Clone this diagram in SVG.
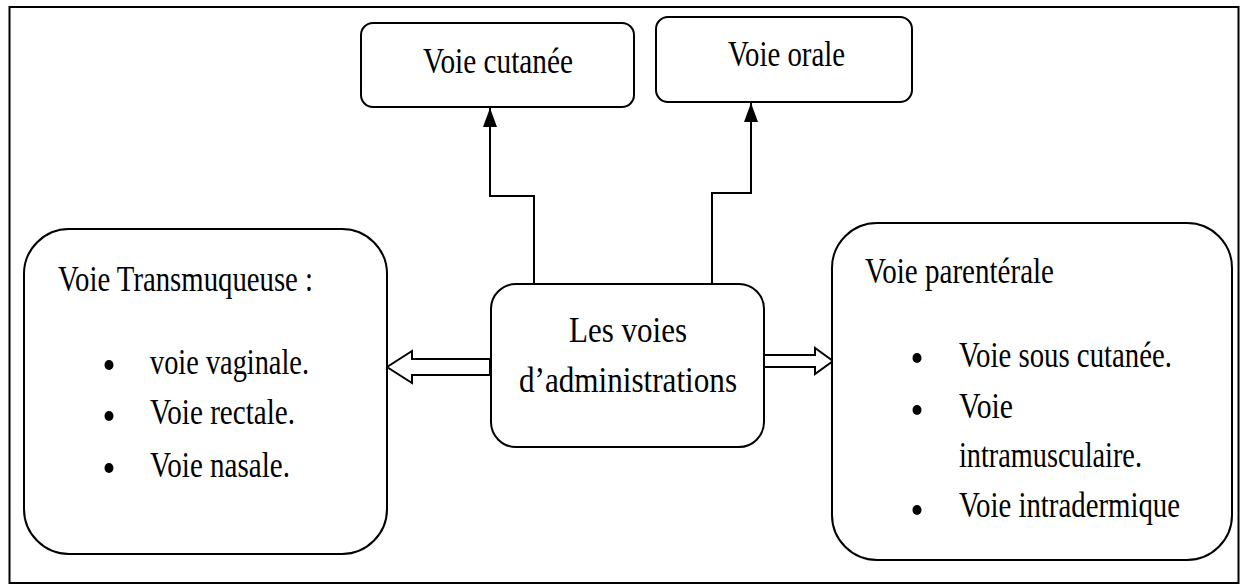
<svg xmlns="http://www.w3.org/2000/svg" width="1240" height="586" viewBox="0 0 1240 586">
<style>
.box{fill:#fff;stroke:#000;stroke-width:2}
.t{font-family:"Liberation Serif","Times New Roman",serif;font-size:36px;fill:#000}
.c{text-anchor:middle}
.ln{fill:none;stroke:#000;stroke-width:2}
.hollow{fill:#fff;stroke:#000;stroke-width:2;stroke-linejoin:miter}
</style>
<defs>
<marker id="ah" markerWidth="20" markerHeight="14" refX="19" refY="7" orient="auto" markerUnits="userSpaceOnUse">
<path d="M0,0 L19,7 L0,14 Z" fill="#000"/>
</marker>
</defs>
<rect x="9.5" y="7" width="1229" height="576" fill="#fff" stroke="#000" stroke-width="2"/>
<g id="connectors">
<path class="ln" d="M534,284 V196 H490 V108" marker-end="url(#ah)"/>
<path class="ln" d="M712,284 V193 H751 V103" marker-end="url(#ah)"/>
<polygon class="hollow" points="387,367 412,351 412,359 490,359 490,375 412,375 412,383"/>
<polygon class="hollow" points="833,361 815,348 815,355 764,355 764,367 815,367 815,374"/>
</g>
<g id="cutanee">
<rect class="box" x="361" y="23" width="273" height="84" rx="12"/>
<text class="t" x="423" y="73" textLength="150" lengthAdjust="spacingAndGlyphs">Voie cutanée</text>
</g>
<g id="orale">
<rect class="box" x="656" y="17" width="256" height="85" rx="12"/>
<text class="t" x="728" y="66" textLength="117" lengthAdjust="spacingAndGlyphs">Voie orale</text>
</g>
<g id="centre">
<rect class="box" x="491" y="284" width="273" height="163" rx="25"/>
<text class="t" x="569" y="342" textLength="118" lengthAdjust="spacingAndGlyphs">Les voies</text>
<text class="t" x="519" y="392" textLength="218" lengthAdjust="spacingAndGlyphs">d’administrations</text>
</g>
<g id="transmuqueuse">
<rect class="box" x="24" y="229" width="363" height="325" rx="45"/>
<text class="t" x="58" y="291" textLength="255" lengthAdjust="spacingAndGlyphs">Voie Transmuqueuse :</text>
<ellipse cx="109" cy="365" rx="4.5" ry="5"/>
<ellipse cx="109" cy="416" rx="4.5" ry="5"/>
<ellipse cx="109" cy="468" rx="4.5" ry="5"/>
<text class="t" x="150" y="374" textLength="159" lengthAdjust="spacingAndGlyphs">voie vaginale.</text>
<text class="t" x="150" y="424" textLength="145" lengthAdjust="spacingAndGlyphs">Voie rectale.</text>
<text class="t" x="150" y="477" textLength="140" lengthAdjust="spacingAndGlyphs">Voie nasale.</text>
</g>
<g id="parenterale">
<rect class="box" x="832" y="223" width="400" height="337" rx="45"/>
<text class="t" x="865" y="283" textLength="189" lengthAdjust="spacingAndGlyphs">Voie parentérale</text>
<ellipse cx="917" cy="358" rx="4.5" ry="5"/>
<ellipse cx="917" cy="410" rx="4.5" ry="5"/>
<ellipse cx="917" cy="510" rx="4.5" ry="5"/>
<text class="t" x="959" y="367" textLength="213" lengthAdjust="spacingAndGlyphs">Voie sous cutanée.</text>
<text class="t" x="959" y="418" textLength="54" lengthAdjust="spacingAndGlyphs">Voie</text>
<text class="t" x="959" y="467" textLength="183" lengthAdjust="spacingAndGlyphs">intramusculaire.</text>
<text class="t" x="959" y="517" textLength="221" lengthAdjust="spacingAndGlyphs">Voie intradermique</text>
</g>
</svg>
